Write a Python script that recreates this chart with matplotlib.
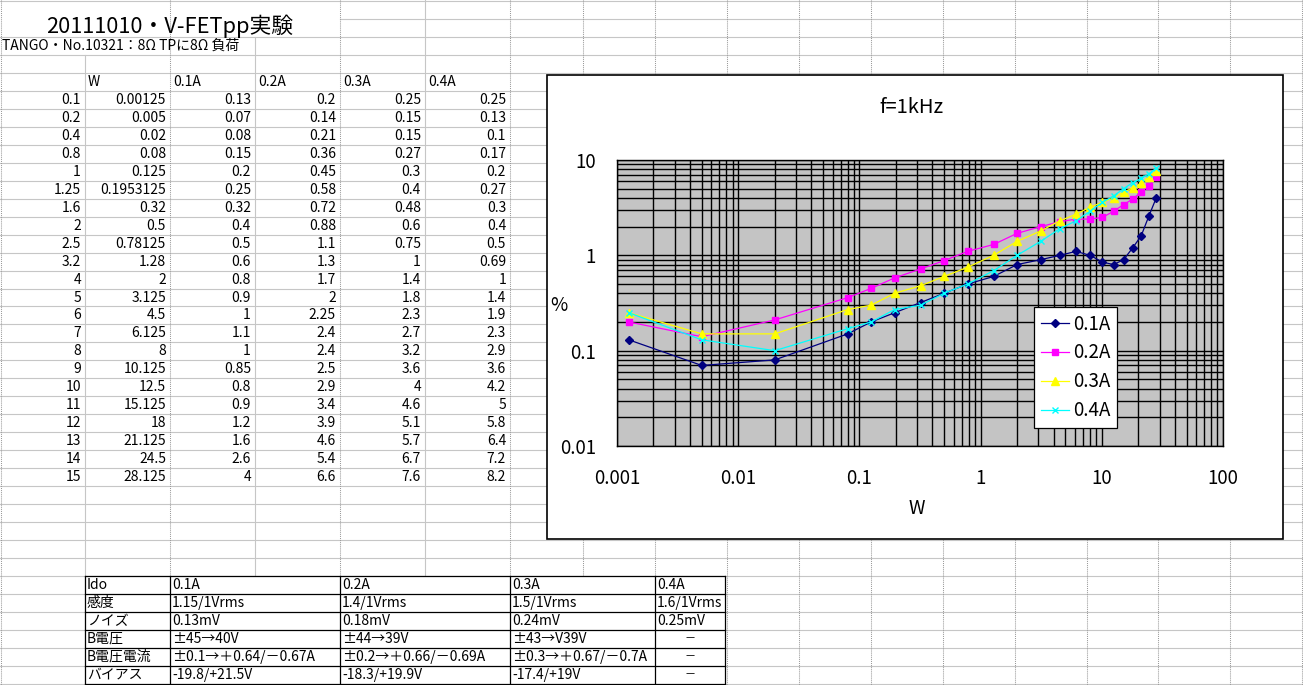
import matplotlib
matplotlib.use('Agg')
import matplotlib.pyplot as plt
from matplotlib.patches import Rectangle
from matplotlib.ticker import FuncFormatter, NullFormatter, LogLocator

plt.rcParams['font.family'] = ['Noto Sans CJK JP', 'DejaVu Sans']

# 測定データ
volts = [0.1, 0.2, 0.4, 0.8, 1, 1.25, 1.6, 2, 2.5, 3.2, 4, 5, 6, 7, 8, 9, 10, 11, 12, 13, 14, 15]
watts = [0.00125, 0.005, 0.02, 0.08, 0.125, 0.1953125, 0.32, 0.5, 0.78125, 1.28, 2, 3.125,
         4.5, 6.125, 8, 10.125, 12.5, 15.125, 18, 21.125, 24.5, 28.125]
thd_01 = [0.13, 0.07, 0.08, 0.15, 0.2, 0.25, 0.32, 0.4, 0.5, 0.6, 0.8, 0.9, 1, 1.1, 1, 0.85, 0.8, 0.9, 1.2, 1.6, 2.6, 4]
thd_02 = [0.2, 0.14, 0.21, 0.36, 0.45, 0.58, 0.72, 0.88, 1.1, 1.3, 1.7, 2, 2.25, 2.4, 2.4, 2.5, 2.9, 3.4, 3.9, 4.6, 5.4, 6.6]
thd_03 = [0.25, 0.15, 0.15, 0.27, 0.3, 0.4, 0.48, 0.6, 0.75, 1, 1.4, 1.8, 2.3, 2.7, 3.2, 3.6, 4, 4.6, 5.1, 5.7, 6.7, 7.6]
thd_04 = [0.25, 0.13, 0.1, 0.17, 0.2, 0.27, 0.3, 0.4, 0.5, 0.69, 1, 1.4, 1.9, 2.3, 2.9, 3.6, 4.2, 5, 5.8, 6.4, 7.2, 8.2]
series_names = ['0.1A', '0.2A', '0.3A', '0.4A']

# 下の表
info_rows = [
    ['Ido', '0.1A', '0.2A', '0.3A', '0.4A'],
    ['感度', '1.15/1Vrms', '1.4/1Vrms', '1.5/1Vrms', '1.6/1Vrms'],
    ['ノイズ', '0.13mV', '0.18mV', '0.24mV', '0.25mV'],
    ['B電圧', '±45→40V', '±44→39V', '±43→V39V', '－'],
    ['B電圧電流', '±0.1→＋0.64/－0.67A', '±0.2→＋0.66/－0.69A', '±0.3→＋0.67/－0.7A', '－'],
    ['バイアス', '-19.8/+21.5V', '-18.3/+19.9V', '-17.4/+19V', '－'],
]

W, H = 1303, 685
fig = plt.figure(figsize=(W / 100, H / 100), dpi=100)
bg = fig.add_axes([0, 0, 1, 1])
bg.set_xlim(0, W)
bg.set_ylim(H, 0)
bg.axis('off')


def row_y(k):
    return 1 + 17.97 * k


# シートの罫線
grid_c = '#c6c6c6'
for k in range(39):
    x0 = 340 if k == 1 else 0
    bg.plot([x0, W], [row_y(k), row_y(k)], color=grid_c, lw=0.8, zorder=1)
for x, ystart in [(85, row_y(3)), (255, row_y(2)), (425, 0)]:
    bg.plot([x, x], [ystart, H], color=grid_c, lw=0.8, zorder=1)
for x in [0.5, 170, 340, 510, 583, 655, 727, 799, 871, 943, 1015, 1087, 1158, 1230, 1302]:
    bg.plot([x, x], [0, H], color='#9a9a9a', lw=0.75, ls=(0, (1, 1)), zorder=1)

# タイトル
bg.text(170, 26, '20111010・V-FETpp実験', fontsize=15.7, ha='center', va='center', zorder=2)
bg.text(2, 46, 'TANGO・No.10321：8Ω TPに8Ω 負荷', fontsize=10, ha='left', va='center', zorder=2)


def fmt(v):
    return ('%.10f' % v).rstrip('0').rstrip('.')


fs = 10
col_right = [81, 166, 251, 336, 421, 506]
col_left = [88, 173, 258, 343, 428]
for name, x in zip(['W'] + series_names, col_left):
    bg.text(x, row_y(4) + 9, name, fontsize=fs, ha='left', va='center', zorder=2)
cols = [volts, watts, thd_01, thd_02, thd_03, thd_04]
for i in range(len(volts)):
    y = row_y(5 + i) + 9
    for c, x in zip(cols, col_right):
        bg.text(x, y, fmt(c[i]), fontsize=fs, ha='right', va='center', zorder=2)

# 下の表
tx = [85, 170, 340, 510, 655, 725]
bg.add_patch(Rectangle((tx[0], row_y(32)), tx[-1] - tx[0], row_y(38) - row_y(32),
                       facecolor='white', edgecolor='none', zorder=2))
for k in range(32, 39):
    bg.plot([tx[0], tx[-1]], [row_y(k), row_y(k)], color='black', lw=0.9, zorder=3)
for x in tx:
    bg.plot([x, x], [row_y(32), row_y(38)], color='black', lw=0.9, zorder=3)
for r, row in enumerate(info_rows):
    y = row_y(32 + r) + 9
    for j, s in enumerate(row):
        if s == '－':
            bg.text((tx[j] + tx[j + 1]) / 2, y, s, fontsize=fs - 2, ha='center', va='center', zorder=4)
        else:
            bg.text(tx[j] + 2, y, s, fontsize=fs, ha='left', va='center', zorder=4)

# グラフ枠
bg.add_patch(Rectangle((547, 75), 736, 464, facecolor='white', edgecolor='black', lw=1.2, zorder=5))
bg.text(911, 107, 'f=1kHz', fontsize=14.5, ha='center', va='center', zorder=6)
bg.text(559, 305, '%', fontsize=13.5, ha='center', va='center', zorder=6)
bg.text(917, 508, 'W', fontsize=13.5, ha='center', va='center', zorder=6)

ax = fig.add_axes([617 / W, (H - 446) / H, 606 / W, 286 / H], zorder=10)
ax.set_facecolor('#c4c4c4')
ax.set_xscale('log')
ax.set_yscale('log')
ax.set_xlim(0.001, 100)
ax.set_ylim(0.01, 10)

styles = [
    dict(color='#000080', marker='D', ms=4),
    dict(color='#ff00ff', marker='s', ms=5),
    dict(color='#ffff00', marker='^', ms=6),
    dict(color='#00ffff', marker='x', ms=4, mew=1),
]
for ys, name, st in zip([thd_01, thd_02, thd_03, thd_04], series_names, styles):
    ax.plot(watts, ys, lw=0.9, label=name, zorder=3, **st)

for axis in (ax.xaxis, ax.yaxis):
    axis.set_major_locator(LogLocator(base=10))
    axis.set_minor_locator(LogLocator(base=10, subs=range(2, 10)))
    axis.set_major_formatter(FuncFormatter(lambda v, p: '%g' % v))
    axis.set_minor_formatter(NullFormatter())
ax.grid(which='both', color='black', lw=1.0)
ax.set_axisbelow(True)
ax.tick_params(which='both', length=0, labelsize=13.5)
ax.tick_params(axis='y', pad=15)
ax.tick_params(axis='x', pad=16)
for s in ax.spines.values():
    s.set_color('black')
    s.set_linewidth(1.0)

leg = ax.legend(loc='upper left', bbox_to_anchor=(1034 / W, 1 - 307 / H), bbox_transform=fig.transFigure,
                fontsize=13.5, frameon=True, fancybox=False, framealpha=1, edgecolor='black',
                handlelength=1.5, handletextpad=0.25, labelspacing=0.42, borderpad=0.35, borderaxespad=0)
leg.get_frame().set_linewidth(0.9)

fig.savefig('out.png', dpi=100)
